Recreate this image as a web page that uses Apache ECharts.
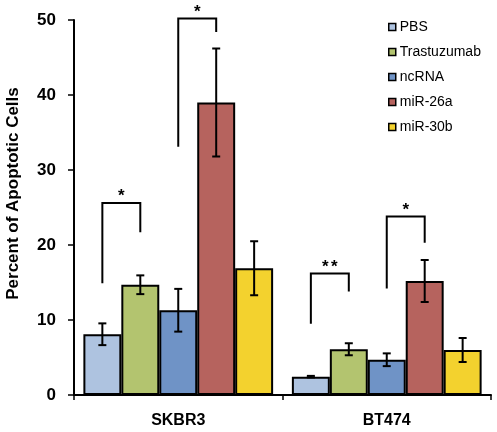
<!DOCTYPE html>
<html>
<head>
<meta charset="utf-8">
<script src="https://cdn.jsdelivr.net/npm/echarts@6/dist/echarts.min.js"></script>
<style>html,body{margin:0;padding:0;background:#fff}#c{width:497px;height:432px}</style>
</head>
<body>
<div id="c"></div>
<script>
const categories = ['SKBR3', 'BT474'];
const seriesNames = ['PBS', 'Trastuzumab', 'ncRNA', 'miR-26a', 'miR-30b'];
const pbs = [8.1, 2.45];
const trastuzumab = [14.7, 6.1];
const ncRNA = [11.3, 4.7];
const mir26a = [39.0, 15.2];
const mir30b = [16.9, 6.0];
const pbsErr = [1.45, 0.1];
const trastuzumabErr = [1.25, 0.8];
const ncRNAErr = [2.85, 0.85];
const mir26aErr = [7.2, 2.8];
const mir30bErr = [3.6, 1.6];
const yTicks = [0, 10, 20, 30, 40, 50];
// significance brackets: [categoryIndex, leftBar, rightBar, leftBottom, rightBottom, top, label]
const brackets = [
  [0, 0, 1, 14.9, 21.7, 25.6, '*'],
  [0, 2, 3, 33.1, 48.4, 50.2, '*'],
  [1, 0, 1, 9.5, 13.8, 16.2, '**'],
  [1, 2, 3, 14.2, 20.3, 23.8, '*']
];

const values = [pbs, trastuzumab, ncRNA, mir26a, mir30b];
const errs = [pbsErr, trastuzumabErr, ncRNAErr, mir26aErr, mir30bErr];
const colors = ['#aec3e0', '#b3c46f', '#6f93c6', '#b6635e', '#f3d22e'];
const GAP = 0.09;
const N = seriesNames.length;

function barCenter(api, cat, idx) {
  const c = api.coord([cat, 0])[0];
  const band = api.size([1, 0])[0];
  const total = band * (1 - GAP);
  const w = total / N;
  return c - total / 2 + w * (idx + 0.5);
}

const errData = [];
values.forEach((arr, s) => arr.forEach((v, k) => {
  errData.push([k, s, v - errs[s][k], v + errs[s][k]]);
}));

const barSeries = seriesNames.map((name, s) => ({
  name: name,
  type: 'bar',
  data: values[s],
  barGap: '0%',
  barCategoryGap: (GAP * 100) + '%',
  itemStyle: { color: colors[s], borderColor: '#000', borderWidth: 2 },
  z: 2
}));

const chart = echarts.init(document.getElementById('c'));
chart.setOption({
  animation: false,
  textStyle: { fontFamily: 'Liberation Sans, Arial, sans-serif' },
  grid: { left: 74, right: 6, top: 20, bottom: 37, outerBoundsMode: 'none', containLabel: false },
  legend: {
    orient: 'vertical', left: 383, top: 15, itemWidth: 7, itemHeight: 7, itemGap: 11,
    icon: 'rect',
    itemStyle: { borderColor: '#000', borderWidth: 1.5 },
    textStyle: { fontSize: 14, color: '#000', padding: [0, 0, 0, -1] },
    data: seriesNames
  },
  xAxis: {
    type: 'category', data: categories,
    axisLine: { lineStyle: { color: '#000', width: 2 } },
    axisTick: { show: true, length: 5, lineStyle: { color: '#000', width: 1.5 } },
    axisLabel: { fontSize: 16, fontWeight: 'bold', color: '#000', margin: 18 }
  },
  yAxis: {
    type: 'value', min: yTicks[0], max: yTicks[yTicks.length - 1], interval: 10,
    name: 'Percent of Apoptotic Cells', nameLocation: 'middle', nameGap: 52,
    nameTextStyle: { fontSize: 17, fontWeight: 'bold', color: '#000', padding: [0, 0, 0, 28] },
    axisLine: { show: true, lineStyle: { color: '#000', width: 2 } },
    axisTick: { show: true, length: 6, lineStyle: { color: '#000', width: 1.5 } },
    axisLabel: { fontSize: 17, fontWeight: 'bold', color: '#000', margin: 18 },
    splitLine: { show: false }
  },
  series: barSeries.concat([
    {
      type: 'custom', name: 'err', data: errData, z: 5, silent: true,
      encode: { x: 0, y: [2, 3] },
      renderItem: function (params, api) {
        const cat = api.value(0), s = api.value(1);
        const x = barCenter(api, cat, s);
        const lo = api.coord([cat, api.value(2)])[1];
        const hi = api.coord([cat, api.value(3)])[1];
        const cw = 4;
        const st = { stroke: '#000', lineWidth: 2 };
        return { type: 'group', children: [
          { type: 'line', shape: { x1: x, y1: lo, x2: x, y2: hi }, style: st },
          { type: 'line', shape: { x1: x - cw, y1: lo, x2: x + cw, y2: lo }, style: st },
          { type: 'line', shape: { x1: x - cw, y1: hi, x2: x + cw, y2: hi }, style: st }
        ]};
      }
    },
    {
      type: 'custom', name: 'sig', data: brackets, z: 6, silent: true, clip: false,
      encode: { x: 0, y: [3, 4, 5] },
      renderItem: function (params, api) {
        const b = brackets[params.dataIndex];
        const cat = b[0];
        const xl = barCenter(api, cat, b[1]);
        const xr = barCenter(api, cat, b[2]);
        const yl = api.coord([cat, b[3]])[1];
        const yr = api.coord([cat, b[4]])[1];
        const yt = api.coord([cat, b[5]])[1];
        const children = [{
          type: 'polyline', shape: { points: [[xl, yl], [xl, yt], [xr, yt], [xr, yr]] },
          style: { stroke: '#000', lineWidth: 2, fill: null }
        }];
        const chars = b[6].split('');
        const sp = 9;
        const xm = (xl + xr) / 2;
        chars.forEach((ch, i) => {
          children.push({
            type: 'text',
            style: {
              text: ch, x: xm + (i - (chars.length - 1) / 2) * sp, y: yt + 2,
              fill: '#000', font: 'bold 17px Liberation Sans, Arial, sans-serif',
              align: 'center', verticalAlign: 'bottom'
            }
          });
        });
        return { type: 'group', children: children };
      }
    }
  ])
});
</script>
</body>
</html>
